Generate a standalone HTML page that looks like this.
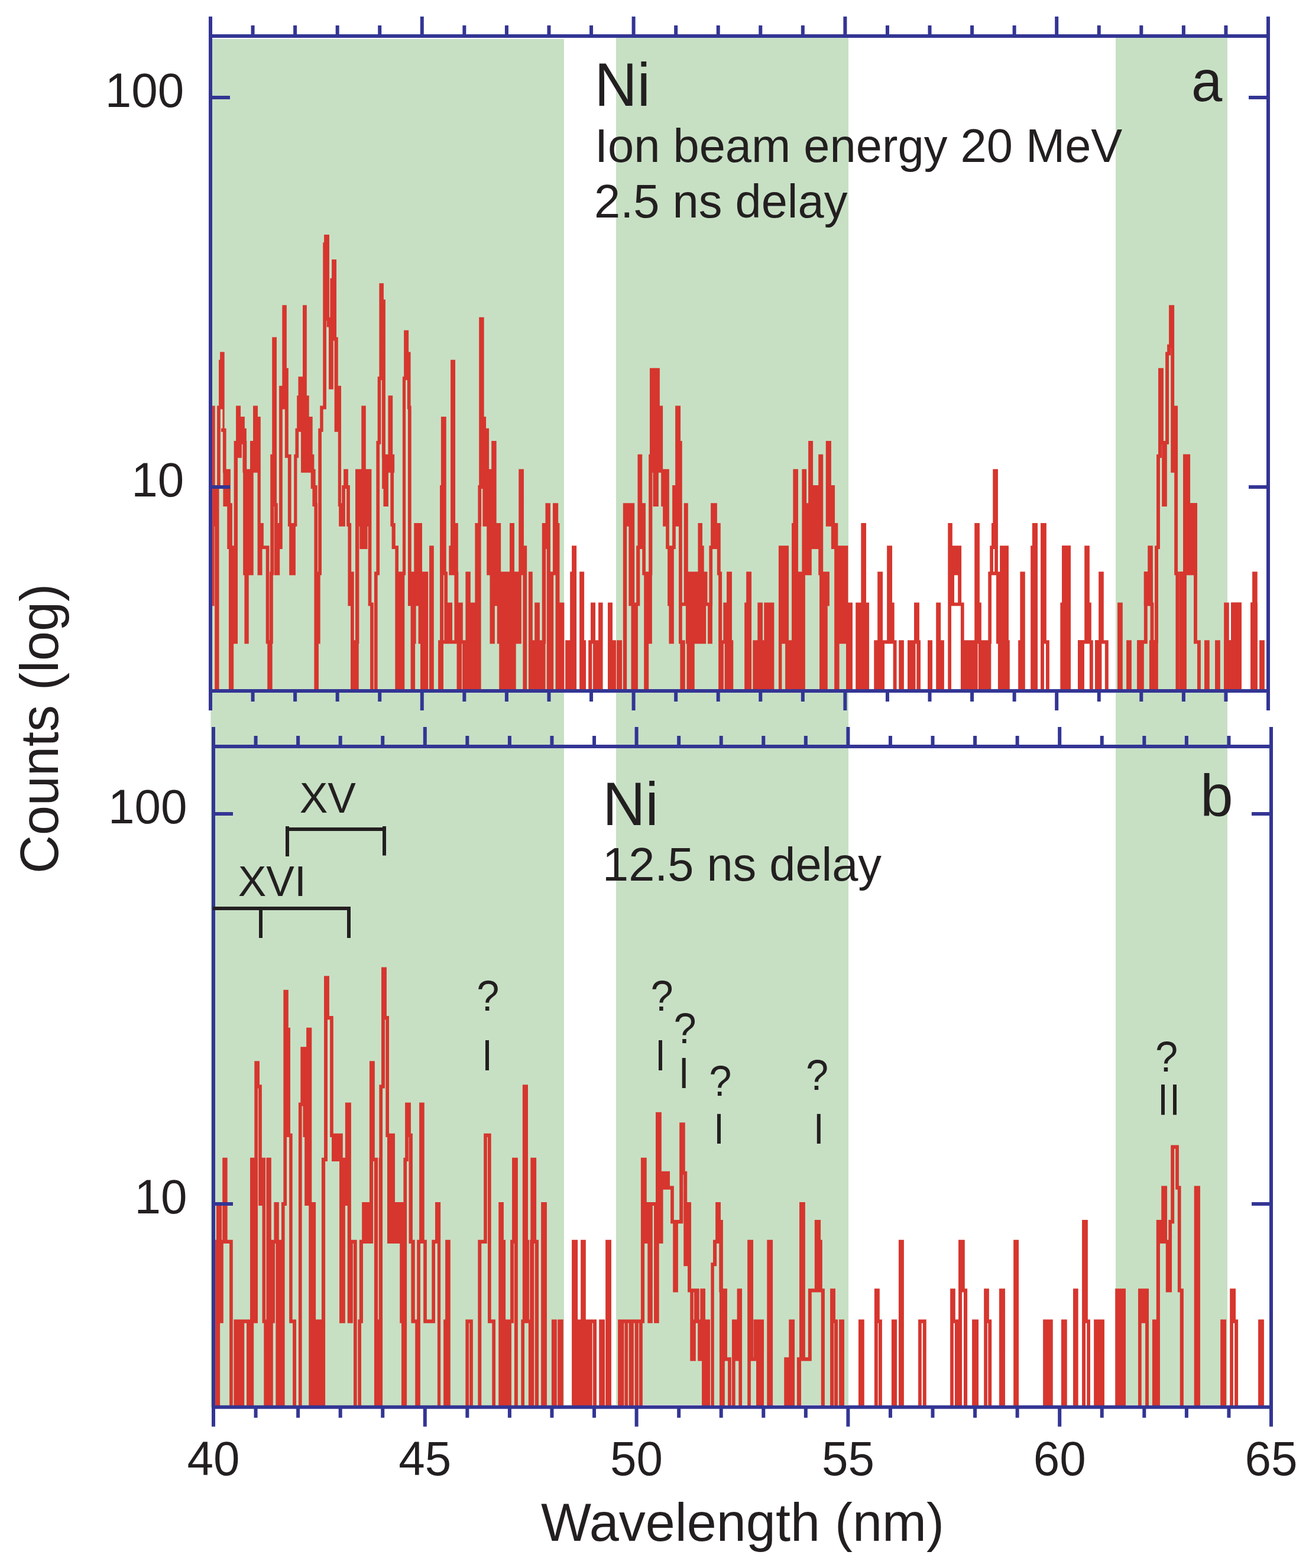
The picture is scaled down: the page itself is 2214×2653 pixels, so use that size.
<!DOCTYPE html>
<html lang="en">
<head>
<meta charset="utf-8">
<title>Ni spectra</title>
<style>
html,body{margin:0;padding:0;background:#fff;}
body{width:2214px;height:2653px;overflow:hidden;}
svg{display:block;}
text{font-family:"Liberation Sans", sans-serif;}
</style>
</head>
<body>
<svg width="2214" height="2653" viewBox="0 0 2214 2653">
<rect x="0" y="0" width="2214" height="2653" fill="#fff"/>
<rect x="356.4" y="66" width="597.6" height="2315" fill="#c7e0c4"/>
<rect x="1042" y="64" width="393" height="2313" fill="#c7e0c4"/>
<rect x="1887" y="64" width="189" height="2313.2" fill="#c7e0c4"/>
<defs><clipPath id="ca"><rect x="356" y="61" width="1789" height="1108"/></clipPath><clipPath id="cb"><rect x="361" y="1263" width="1789" height="1117.7"/></clipPath></defs>
<g clip-path="url(#ca)">
<path d="M356 1189H1750V887.86H1752.05V1189H1763.01V887.86H1766.89V1086.24H1771.91V1189H1796.32V1022.38H1799.06V926.08H1807.96V1189H1825.98V1086.24H1837.16V926.08H1839.9V1022.38H1842.87V1086.24H1845.84V1189H1854.96V1086.24H1861.12V970.2H1863.86V1086.24H1871.85V1189H1893.01V1022.38H1895.87V1189H1908.07V1086.24H1910.93V1189H1926.16V1086.24H1937.79V970.2H1944.18V926.08H1946.92V1022.38H1948.52V1086.24H1956.05V926.08H1959.01V771.82H1961.98V625.62H1964.95V748.91H1968.14V854.15H1970.88V748.91H1974.07V598.34H1977.04V585.62H1980.01V519.28H1983.2V796.72H1986.17V689.48H1989.13V970.2H1991.41V1189H1997.58V970.2H2003.96V771.82H2010.13V854.15H2021.99V1086.24H2027.92V1189H2039.96V1086.24H2042.82V1189H2057.98V1086.24H2060.84V1189H2073.1V1022.38H2075.84V1086.24H2084.97V1022.38H2096.83V1189H2118.05V1022.38H2121.02V970.2H2123.76V1189H2133.05V1086.24H2135.91V1189H2145" fill="none" stroke="#d6362e" stroke-width="5.9" stroke-linejoin="miter"/>
<path d="M1796.09 923.13H1810.92V1191.95H1796.09ZM1823.02 1083.29H1833.97V1191.95H1823.02ZM1852 1083.29H1863.41V1191.95H1852ZM1923.19 1083.29H1934.83V1191.95H1923.19ZM1943.95 1083.29H1958.78V1191.95H1943.95ZM1934.83 967.25H1949.89V1025.33H1934.83ZM1994.61 967.25H2006.93V1191.95H1994.61ZM2001 851.2H2024.96V973.15H2001ZM2001 768.87H2012.86V973.15H2001ZM2070.14 1083.29H2099.8V1191.95H2070.14ZM2082 1019.43H2099.8V1191.95H2082ZM2115.09 1019.43H2126.73V1191.95H2115.09ZM1350 967.25H1361.87V1191.95H1350ZM1356.39 793.77H1364.15V973.15H1356.39ZM1364.15 851.2H1372.82V973.15H1364.15ZM1367.11 745.96H1375.1V857.1H1367.11ZM1372.82 821.05H1386.05V929.03H1372.82ZM1384.23 768.87H1392.21V973.15H1384.23ZM1386.05 967.25H1399.74V1191.95H1386.05ZM1396.78 745.96H1405.9V890.81H1396.78ZM1399.74 967.25H1402.94V1025.33H1399.74ZM1405.9 821.05H1412.07V929.03H1405.9ZM1412.07 884.91H1417.31V929.03H1412.07ZM1405.9 884.91H1411.15V929.03H1405.9ZM1411.15 923.13H1434.43V1089.19H1411.15ZM1411.15 1083.29H1419.59V1191.95H1411.15ZM1431 1019.43H1441.96V1191.95H1431ZM1447.2 1019.43H1470.02V1191.95H1447.2ZM1456.33 884.91H1465V1025.33H1456.33ZM1478.24 1083.29H1496.04V1191.95H1478.24ZM1484.17 967.25H1493.07V1089.19H1484.17ZM1478.24 1083.29H1516.57V1089.19H1478.24ZM1500.14 923.13H1509.04V1089.19H1500.14ZM1506.3 1019.43H1512.69V1089.19H1506.3ZM1510.64 1083.29H1516.57V1191.95H1510.64ZM1520.22 1083.29H1528.89V1191.95H1520.22ZM1535.05 1083.29H1548.52V1191.95H1535.05ZM1550.34 1083.29H1556.96V1191.95H1550.34ZM1546.01 1019.43H1554.91V1089.19H1546.01ZM1569.05 1083.29H1577.04V1191.95H1569.05ZM1583.2 1083.29H1596.89V1191.95H1583.2ZM1583.2 1019.43H1591.19V1089.19H1583.2ZM1603.28 884.91H1608.98V1191.95H1603.28ZM1603.28 884.91H1610.81V973.15H1603.28ZM1610.81 923.13H1626.1V973.15H1610.81ZM1608.98 967.25H1614V1025.33H1608.98ZM1620.17 967.25H1626.1V1025.33H1620.17ZM1608.98 1019.43H1630.66V1025.33H1608.98ZM1624.96 1019.43H1630.66V1191.95H1624.96ZM1630.66 1083.29H1653.71V1191.95H1630.66ZM1648.23 884.91H1656.9V1089.19H1648.23ZM1654.16 1019.43H1659.87V1089.19H1654.16ZM1654.85 1083.29H1676.3V1191.95H1654.85ZM1671.28 967.25H1676.98V1089.19H1671.28ZM1671.28 967.25H1691.13V973.15H1671.28ZM1674.24 923.13H1679.95V973.15H1674.24ZM1676.98 884.91H1679.95V929.03H1676.98ZM1679.26 793.77H1687.93V929.03H1679.26ZM1682.23 923.13H1687.93V973.15H1682.23ZM1684.97 967.25H1691.13V1089.19H1684.97ZM1687.93 1083.29H1707.79V1191.95H1687.93ZM1691.13 923.13H1705.96V1089.19H1691.13ZM1722.16 1083.29H1733.8V1191.95H1722.16ZM1725.36 967.25H1733.8V1089.19H1725.36ZM1743.15 923.13H1755.02V1191.95H1743.15ZM1745.89 884.91H1755.02V929.03H1745.89ZM950 1019.43H953.88V1191.95H950ZM956.16 1083.29H975.1V1191.95H956.16ZM964.15 967.25H975.1V1089.19H964.15ZM967.11 923.13H975.1V973.15H967.11ZM980.12 967.25H988.11V1191.95H980.12ZM980.12 1083.29H991.07V1191.95H980.12ZM995.18 1083.29H1001.34V1191.95H995.18ZM999.06 1019.43H1007.05V1089.19H999.06ZM1002.94 1083.29H1019.59V1191.95H1002.94ZM1012.07 1019.43H1019.59V1089.19H1012.07ZM1028.04 1083.29H1041.96V1191.95H1028.04ZM1028.04 1019.43H1036.02V1089.19H1028.04ZM1043.1 1083.29H1052V1191.95H1043.1ZM1053.82 851.2H1073.22V890.81H1053.82ZM1053.82 884.91H1060.21V1191.95H1053.82ZM1063.41 884.91H1073.22V1025.33H1063.41ZM1067.51 1019.43H1078.92V1191.95H1067.51ZM1073.22 1019.43H1082.34V1025.33H1073.22ZM1076.18 923.13H1082.34V1025.33H1076.18ZM1078.47 768.87H1086.22V929.03H1078.47ZM1086.22 851.2H1091.93V973.15H1086.22ZM1089.19 967.25H1102.88V1089.19H1089.19ZM1089.19 1083.29H1097.18V1191.95H1089.19ZM1097.18 768.87H1103.34V973.15H1097.18ZM1099 622.67H1115.89V799.67H1099ZM1104.48 793.77H1113.83V857.1H1104.48ZM1114.75 724.75H1121.14V799.67H1114.75ZM1115.89 686.53H1121.14V799.67H1115.89ZM1118.17 793.77H1121.14V857.1H1118.17ZM1121.14 793.77H1131.86V890.81H1121.14ZM1126.16 884.91H1131.86V929.03H1126.16ZM1126.16 923.13H1142.81V929.03H1126.16ZM1129.12 923.13H1139.85V1025.33H1129.12ZM1131.4 1019.43H1139.85V1089.19H1131.4ZM1137.11 821.05H1142.81V929.03H1137.11ZM1142.13 686.53H1151.03V890.81H1142.13ZM1142.81 745.96H1153.76V890.81H1142.81ZM1148.06 884.91H1153.76V1089.19H1148.06ZM1150.34 1083.29H1158.78V1191.95H1150.34ZM1153.76 1019.43H1159.93V1025.33H1153.76ZM1156.73 851.2H1163.8V973.15H1156.73ZM1156.73 967.25H1196.43V1025.33H1156.73ZM1159.93 1019.43H1194.15V1089.19H1159.93ZM1161.52 1083.29H1174.76V1191.95H1161.52ZM1180.46 884.91H1187.99V973.15H1180.46ZM1187.99 923.13H1190.73V973.15H1187.99ZM1197.12 1019.43H1204.88V1089.19H1197.12ZM1194.15 1019.43H1204.88V1025.33H1194.15ZM1199.4 923.13H1205.11V1025.33H1199.4ZM1199.4 923.13H1205.11V929.03H1199.4ZM1202.14 851.2H1212.86V929.03H1202.14ZM1212.86 884.91H1218.8V973.15H1212.86ZM1210.13 884.91H1218.8V929.03H1210.13ZM1215.15 967.25H1221.08V1089.19H1215.15ZM1215.15 1083.29H1223.82V1191.95H1215.15ZM1223.36 1019.43H1237.96V1089.19H1223.36ZM1229.06 967.25H1237.96V1025.33H1229.06ZM1225.64 1083.29H1240.25V1191.95H1225.64ZM1259.18 1019.43H1271.05V1191.95H1259.18ZM1262.15 967.25H1271.05V1025.33H1262.15ZM1273.33 1083.29H1309.38V1191.95H1273.33ZM1281.32 1019.43H1289.99V1089.19H1281.32ZM1292.27 1019.43H1309.38V1089.19H1292.27ZM1316.91 923.13H1334.03V1089.19H1316.91ZM1316.91 1083.29H1322.39V1191.95H1316.91ZM1328.09 1083.29H1350V1191.95H1328.09ZM1339.05 884.91H1350V1089.19H1339.05ZM1341.33 793.77H1350V890.81H1341.33ZM359.13 686.53H363.69V890.81H359.13ZM359.13 884.91H362.55V1025.33H359.13ZM363.23 821.05H370.54V1191.95H363.23ZM363.23 821.05H372.82V826.95H363.23ZM367.11 686.53H372.82V826.95H367.11ZM377.38 793.77H389.93V857.1H377.38ZM376.93 724.75H382.63V799.67H376.93ZM384.23 851.2H392.9V929.03H384.23ZM386.97 923.13H402.03V1089.19H386.97ZM386.97 1083.29H395.18V1191.95H386.97ZM395.64 745.96H402.03V929.03H395.64ZM411.15 793.77H428.72V973.15H411.15ZM413.43 967.25H420.74V1089.19H413.43ZM435.57 745.96H440.82V890.81H435.57ZM435.57 884.91H445.84V890.81H435.57ZM440.82 884.91H445.84V929.03H440.82ZM435.57 884.91H443.55V973.15H435.57ZM443.55 923.13H455.42V929.03H443.55ZM449.71 923.13H455.42V1089.19H449.71ZM452.22 1083.29H460.67V1191.95H452.22ZM456.1 967.25H461.81V1089.19H456.1ZM457.24 851.2H463.41V973.15H457.24ZM464.09 851.2H469.79V890.81H464.09ZM464.09 884.91H473.22V973.15H464.09ZM469.79 884.91H477.78V929.03H469.79ZM457.24 851.2H469.79V857.1H457.24ZM486.91 884.91H502.42V890.81H486.91ZM489.19 884.91H499.91V973.15H489.19ZM525.7 793.77H533.69V826.95H525.7ZM528.44 821.05H536.65V857.1H528.44ZM531.4 851.2H537.11V973.15H531.4ZM531.4 967.25H541.67V1089.19H531.4ZM531.4 1083.29H538.93V1191.95H531.4ZM573.16 851.2H583.88V890.81H573.16ZM578.18 821.05H591.87V826.95H578.18ZM581.15 793.77H588.9V826.95H581.15ZM578.18 821.05H583.88V857.1H578.18ZM586.17 821.05H591.87V890.81H586.17ZM586.17 884.91H594.15V890.81H586.17ZM588.45 884.91H594.15V973.15H588.45ZM588.45 967.25H598.72V1025.33H588.45ZM593.01 1019.43H598.72V1089.19H593.01ZM593.01 1083.29H606.7V1191.95H593.01ZM601 793.77H628.38V890.81H601ZM601 884.91H607.39V1089.19H601ZM608.3 884.91H621.53V929.03H608.3ZM622.68 884.91H628.38V1025.33H622.68ZM623.82 1019.43H631.8V1025.33H623.82ZM626.1 1019.43H631.8V1191.95H626.1ZM632.94 967.25H638.65V1191.95H632.94ZM632.94 967.25H641.61V973.15H632.94ZM646.18 793.77H656.9V826.95H646.18ZM648.46 821.05H656.9V857.1H648.46ZM660.33 793.77H666.03V890.81H660.33ZM662.61 884.91H668.77V929.03H662.61ZM663.75 923.13H674.02V929.03H663.75ZM668.31 923.13H674.02V973.15H668.31ZM668.31 967.25H684.28V1191.95H668.31ZM689.99 967.25H724.22V1025.33H689.99ZM700.26 884.91H713.95V973.15H700.26ZM694.55 1019.43H703.68V1089.19H694.55ZM694.55 1083.29H702.08V1191.95H694.55ZM707.56 1019.43H724.22V1089.19H707.56ZM710.98 1083.29H724.22V1191.95H710.98ZM726.04 923.13H733.8V1191.95H726.04ZM741.33 1083.29H750V1191.95H741.33ZM744.3 821.05H750V1089.19H744.3ZM372.13 595.39H379.66V692.43H372.13ZM376.47 686.53H379.66V730.65H376.47ZM370.08 608.71H372.82V692.43H370.08ZM373.96 724.75H382.63V730.65H373.96ZM396.32 745.96H402.03V929.03H396.32ZM402.03 745.96H408.87V774.77H402.03ZM399.06 686.53H407.05V751.86H399.06ZM407.05 705.01H413.89V751.86H407.05ZM413.89 724.75H416.86V799.67H413.89ZM410.47 745.96H417.31V799.67H410.47ZM423.02 745.96H428.04V799.67H423.02ZM428.04 686.53H436.02V799.67H428.04ZM423.02 745.96H433.97V799.67H423.02ZM436.02 705.01H440.82V890.81H436.02ZM460.21 570.49H467.97V857.1H460.21ZM457.24 768.87H463.41V973.15H457.24ZM472.08 652.83H477.78V890.81H472.08ZM477.32 516.33H484.85V692.43H477.32ZM481.89 622.67H487.82V774.77H481.89ZM486.91 768.87H492.61V890.81H486.91ZM497.18 768.87H502.42V890.81H497.18ZM499.46 724.75H505.16V774.77H499.46ZM502.2 669.18H522.73V730.65H502.2ZM504.48 637.35H512.01V675.08H504.48ZM512.01 516.33H518.85V675.08H512.01ZM509.04 705.01H528.67V799.67H509.04ZM509.04 768.87H531.4V799.67H509.04ZM538.25 724.75H543.95V973.15H538.25ZM541.22 686.53H546.69V730.65H541.22ZM541.22 686.53H551.94V692.43H541.22ZM546.24 410.33H551.94V692.43H546.24ZM548.06 397.01H556.96V542.68H548.06ZM552.62 536.78H558.33V553.48H552.62ZM556.05 547.58H563.8V658.73H556.05ZM558.33 470.81H561.07V553.48H558.33ZM561.07 438.97H569.05V576.39H561.07ZM565.63 570.49H571.79V730.65H565.63ZM571.79 652.83H577.04V857.1H571.79ZM611.27 686.53H618.8V799.67H611.27ZM636.37 745.96H642.07V973.15H636.37ZM638.65 637.35H644.35V751.86H638.65ZM641.39 479.35H648.92V643.25H641.39ZM645.95 506.63H651.88V774.77H645.95ZM646.18 768.87H667.17V799.67H646.18ZM656.45 669.18H664.2V774.77H656.45ZM680.86 637.35H686.11V973.15H680.86ZM683.14 558.81H691.13V643.25H683.14ZM688.85 595.39H694.55V692.43H688.85ZM689.99 686.53H695.69V973.15H689.99ZM745.89 705.01H750V826.95H745.89ZM741.07 1083.29H746.78V1191.95H741.07ZM744.04 821.05H749.74V1089.19H744.04ZM746.32 705.01H754.76V973.15H746.32ZM751.34 967.25H757.05V1089.19H751.34ZM754.76 1019.43H765.03V1089.19H754.76ZM759.33 923.13H769.59V973.15H759.33ZM762.07 608.71H770.05V929.03H762.07ZM759.33 967.25H775.3V973.15H759.33ZM769.59 884.91H774.84V1025.33H769.59ZM768.45 967.25H775.3V1089.19H768.45ZM772.56 1019.43H782.83V1089.19H772.56ZM746.78 1083.29H772.56V1089.19H746.78ZM772.56 1083.29H781V1191.95H772.56ZM782.14 1083.29H813.63V1191.95H782.14ZM787.39 967.25H795.84V1089.19H787.39ZM795.84 1019.43H813.63V1089.19H795.84ZM803.37 884.91H813.63V1025.33H803.37ZM808.39 821.05H814.09V890.81H808.39ZM810.21 536.78H818.65V826.95H810.21ZM810.21 705.01H822.08V826.95H810.21ZM810.21 724.75H827.1V826.95H810.21ZM816.37 793.77H839.65V890.81H816.37ZM831.2 745.96H839.65V799.67H831.2ZM810.21 821.05H816.37V826.95H810.21ZM823.22 884.91H847.18V973.15H823.22ZM828.47 967.25H836.91V1089.19H828.47ZM840.79 967.25H881.86V1089.19H840.79ZM828.47 967.25H881.86V1025.33H828.47ZM844.21 1083.29H872.73V1191.95H844.21ZM862.01 884.91H869.99V973.15H862.01ZM877.3 793.77H885.97V929.03H877.3ZM877.3 923.13H891.22V973.15H877.3ZM884.37 967.25H891.22V1191.95H884.37ZM893.95 967.25H900.8V1191.95H893.95ZM893.95 1083.29H922.48V1191.95H893.95ZM904.22 1019.43H912.89V1089.19H904.22ZM916.77 884.91H923.16V1089.19H916.77ZM922.48 851.2H930.92V929.03H922.48ZM916.77 884.91H930.92V929.03H916.77ZM924.76 923.13H930.92V973.15H924.76ZM924.76 967.25H936.17V1191.95H924.76ZM930.92 967.25H939.59V973.15H930.92ZM935.03 851.2H944.15V973.15H935.03ZM939.59 884.91H946.43V1025.33H939.59ZM939.59 1019.43H954.42V1191.95H939.59Z" fill="#d6362e"/>
</g>
<g clip-path="url(#cb)">
<path d="M361 2400.7H2150" fill="none" stroke="#d6362e" stroke-width="6.2" stroke-linejoin="miter"/>
<path d="M1764.13 2232.58H1780.78V2403.8H1764.13ZM1794.93 2232.58H1804.74V2403.8H1794.93ZM1815.01 2180.32H1823.68V2403.8H1815.01ZM1830.07 2064.1H1839.88V2238.78H1830.07ZM1830.07 2232.58H1836V2403.8H1830.07ZM1838.29 2232.58H1843.99V2403.8H1838.29ZM1830.07 2232.58H1843.99V2238.78H1830.07ZM1850.15 2232.58H1867.95V2403.8H1850.15ZM1886.2 2180.32H1904V2403.8H1886.2ZM1924.99 2180.32H1943.02V2238.78H1924.99ZM1924.99 2232.58H1930.7V2403.8H1924.99ZM1937.09 2232.58H1943.02V2403.8H1937.09ZM1948.95 2232.58H1961.96V2403.8H1948.95ZM1955.8 2064.1H1961.96V2238.78H1955.8ZM1955.8 2064.1H1974.05V2104.06H1955.8ZM1964.24 2006.58H1974.05V2070.3H1964.24ZM1971.77 2097.86H1982.04V2186.52H1971.77ZM1976.33 2064.1H1982.04V2104.06H1976.33ZM1976.33 2064.1H1985.92V2070.3H1976.33ZM1980.21 1937.46H1986.15V2070.3H1980.21ZM1980.21 1937.46H1993.9V1943.66H1980.21ZM1988.2 1937.46H1993.9V2012.78H1988.2ZM1988.2 2006.58H1997.56V2012.78H1988.2ZM1991.85 2006.58H1997.56V2186.52H1991.85ZM1991.85 2180.32H2001.89V2186.52H1991.85ZM1995.73 2180.32H2001.89V2403.8H1995.73ZM2019.69 2006.58H2029.96V2403.8H2019.69ZM2064.18 2232.58H2074V2403.8H2064.18ZM2080.16 2180.32H2089.97V2238.78H2080.16ZM2080.16 2232.58H2085.86V2403.8H2080.16ZM2088.14 2232.58H2094.08V2403.8H2088.14ZM2080.16 2232.58H2094.08V2238.78H2080.16ZM2128.07 2232.58H2137.89V2403.8H2128.07ZM1355 2033.9H1361.85V2302.74H1355ZM1355 2296.54H1372.8V2302.74H1355ZM1366.87 2180.32H1372.8V2302.74H1366.87ZM1366.87 2180.32H1394.93V2186.52H1366.87ZM1377.82 2064.1H1388.09V2186.52H1377.82ZM1384.66 2097.86H1390.82V2186.52H1384.66ZM1388.77 2180.32H1394.93V2403.8H1388.77ZM1404.06 2180.32H1412.96V2238.78H1404.06ZM1404.06 2232.58H1410.22V2403.8H1404.06ZM1411.13 2232.58H1417.07V2403.8H1411.13ZM1404.06 2232.58H1417.07V2238.78H1404.06ZM1419.12 2232.58H1428.02V2403.8H1419.12ZM1451.98 2232.58H1461.79V2403.8H1451.98ZM1478.9 2180.32H1487.8V2238.78H1478.9ZM1478.9 2232.58H1484.83V2403.8H1478.9ZM1485.98 2232.58H1491.91V2403.8H1485.98ZM1478.9 2232.58H1491.91V2238.78H1478.9ZM1507.88 2232.58H1517.01V2403.8H1507.88ZM1519.97 2097.86H1528.87V2403.8H1519.97ZM1553.06 2232.58H1566.75V2238.78H1553.06ZM1553.06 2232.58H1558.76V2403.8H1553.06ZM1560.82 2232.58H1566.75V2403.8H1560.82ZM1607.14 2180.32H1615.81V2238.78H1607.14ZM1607.14 2232.58H1612.84V2403.8H1607.14ZM1614.9 2232.58H1626.99V2403.8H1614.9ZM1621.06 2097.86H1631.78V2186.52H1621.06ZM1621.06 2180.32H1626.99V2238.78H1621.06ZM1626.99 2180.32H1636.12V2186.52H1626.99ZM1629.96 2180.32H1636.12V2403.8H1629.96ZM1644.1 2232.58H1655.06V2403.8H1644.1ZM1664.18 2180.32H1672.86V2238.78H1664.18ZM1664.18 2232.58H1669.89V2403.8H1664.18ZM1671.26 2232.58H1677.19V2403.8H1671.26ZM1664.18 2232.58H1677.19V2238.78H1664.18ZM1689.97 2180.32H1700.01V2403.8H1689.97ZM1714.16 2097.86H1723.05V2403.8H1714.16ZM967.09 2097.86H977.13V2238.78H967.09ZM982.15 2097.86H990.82V2238.78H982.15ZM967.09 2232.58H1001.78V2403.8H967.09ZM1002.92 2232.58H1009.08V2403.8H1002.92ZM967.09 2232.58H1009.08V2238.78H967.09ZM1013.19 2232.58H1023V2403.8H1013.19ZM1024.14 2097.86H1033.95V2403.8H1024.14ZM1045.13 2232.58H1055.4V2403.8H1045.13ZM1056.54 2232.58H1062.02V2403.8H1056.54ZM1063.61 2232.58H1071.83V2403.8H1063.61ZM1073.65 2232.58H1079.81V2403.8H1073.65ZM1080.96 2232.58H1086.89V2403.8H1080.96ZM1045.13 2232.58H1089.63V2238.78H1045.13ZM1083.92 1958.7H1093.73V2104.06H1083.92ZM1083.92 2097.86H1090.08V2238.78H1083.92ZM1090.08 2097.86H1099.89V2104.06H1090.08ZM1093.73 2033.9H1099.89V2104.06H1093.73ZM1099.44 2033.9H1110.16V2040.1H1099.44ZM1099.44 2033.9H1103.77V2104.06H1099.44ZM1095.33 2097.86H1103.77V2238.78H1095.33ZM1106.06 2033.9H1114.73V2238.78H1106.06ZM1109.02 1881.8H1118.83V2104.06H1109.02ZM1114.73 1981.64H1121.57V2104.06H1114.73ZM1118.83 1981.64H1132.98V2012.78H1118.83ZM1122.26 2006.58H1139.83V2012.78H1122.26ZM1134.12 2006.58H1139.83V2070.3H1134.12ZM1134.12 2064.1H1155.34V2070.3H1134.12ZM1138.23 2064.1H1146.9V2186.52H1138.23ZM1149.18 1899.18H1155.34V2070.3H1149.18ZM1149.18 1899.18H1158.76V1987.84H1149.18ZM1156.25 1981.64H1162.19V2040.1H1156.25ZM1156.25 2033.9H1169.03V2142.34H1156.25ZM1163.1 2136.14H1169.03V2186.52H1163.1ZM1163.1 2180.32H1174.05V2186.52H1163.1ZM1167.21 2180.32H1172.91V2302.74H1167.21ZM1174.05 2180.32H1182.72V2238.78H1174.05ZM1184.32 2180.32H1192.99V2238.78H1184.32ZM1167.21 2232.58H1176.79V2302.74H1167.21ZM1180.21 2232.58H1200.98V2302.74H1180.21ZM1174.05 2232.58H1200.98V2238.78H1174.05ZM1187.06 2296.54H1200.98V2403.8H1187.06ZM1202.35 2136.14H1207.82V2403.8H1202.35ZM1202.35 2136.14H1212.16V2142.34H1202.35ZM1206 2097.86H1212.16V2142.34H1206ZM1206 2097.86H1216.27V2104.06H1206ZM1210.11 2033.9H1216.27V2104.06H1210.11ZM1210.11 2033.9H1219V2070.3H1210.11ZM1216.27 2064.1H1222.88V2186.52H1216.27ZM1216.95 2180.32H1229.96V2302.74H1216.95ZM1216.95 2296.54H1225.85V2403.8H1216.95ZM1225.85 2296.54H1236.8V2302.74H1225.85ZM1231.1 2296.54H1236.8V2403.8H1231.1ZM1237.94 2232.58H1255.06V2302.74H1237.94ZM1237.94 2296.54H1243.65V2403.8H1237.94ZM1246.61 2180.32H1255.06V2238.78H1246.61ZM1249.35 2296.54H1255.06V2403.8H1249.35ZM1264.18 2097.86H1274V2302.74H1264.18ZM1264.18 2296.54H1269.89V2403.8H1264.18ZM1269.89 2296.54H1279.02V2302.74H1269.89ZM1274.45 2232.58H1292.02V2302.74H1274.45ZM1279.02 2296.54H1292.02V2403.8H1279.02ZM1297.27 2097.86H1307.08V2403.8H1297.27ZM1326.25 2296.54H1344.05V2403.8H1326.25ZM1334.24 2232.58H1344.05V2302.74H1334.24ZM1347.93 2296.54H1355V2403.8H1347.93ZM1352.03 2033.9H1355V2302.74H1352.03ZM655 1917.68H668.01V2104.06H655ZM668.01 2033.9H682.38V2104.06H668.01ZM682.38 1958.7H688.09V2104.06H682.38ZM685.12 1865.42H694.93V1923.88H685.12ZM685.12 1917.68H690.82V1964.9H685.12ZM691.51 1917.68H697.9V2104.06H691.51ZM676.22 2097.86H688.09V2238.78H676.22ZM678.96 2232.58H688.09V2403.8H678.96ZM692.19 2097.86H701.78V2104.06H692.19ZM695.39 2097.86H701.78V2238.78H695.39ZM695.39 2232.58H710.9V2238.78H695.39ZM702.23 2232.58H710.9V2403.8H702.23ZM705.2 2097.86H710.9V2238.78H705.2ZM705.2 2097.86H721.86V2104.06H705.2ZM709.08 1865.42H717.75V2104.06H709.08ZM716.15 2097.86H721.86V2238.78H716.15ZM716.15 2232.58H736V2238.78H716.15ZM730.3 2097.86H736V2238.78H730.3ZM730.3 2097.86H739.88V2104.06H730.3ZM736 2033.9H745.13V2104.06H736ZM739.88 2097.86H745.13V2403.8H739.88ZM753.12 2097.86H761.79V2238.78H753.12ZM750.15 2232.58H761.79V2403.8H750.15ZM787.34 2232.58H799.89V2238.78H787.34ZM787.34 2232.58H793.05V2403.8H787.34ZM794.19 2232.58H799.89V2403.8H794.19ZM808.34 2097.86H814.27V2403.8H808.34ZM808.34 2097.86H823.85V2104.06H808.34ZM818.15 1917.68H823.85V2104.06H818.15ZM818.15 1917.68H830.7V1923.88H818.15ZM824.99 1917.68H830.7V2238.78H824.99ZM824.99 2232.58H838V2238.78H824.99ZM832.3 2232.58H838V2403.8H832.3ZM843.25 2033.9H851.92V2104.06H843.25ZM843.25 2097.86H855.11V2238.78H843.25ZM843.25 2232.58H864.93V2403.8H843.25ZM863.1 2097.86H869.03V2238.78H863.1ZM863.1 2097.86H875.88V2104.06H863.1ZM866.07 1958.7H875.88V2104.06H866.07ZM869.95 2097.86H875.88V2403.8H869.95ZM881.35 2232.58H887.06V2403.8H881.35ZM881.35 2232.58H895.73V2238.78H881.35ZM883.86 1835.22H892.99V2104.06H883.86ZM883.86 2097.86H895.05V2238.78H883.86ZM896.19 2097.86H903.26V2403.8H896.19ZM893.9 2232.58H903.26V2403.8H893.9ZM904.86 2097.86H911.02V2403.8H904.86ZM896.87 2097.86H911.02V2104.06H896.87ZM897.33 1958.7H907.14V2104.06H897.33ZM915.13 2033.9H924.94V2403.8H915.13ZM932.92 2232.58H941.82V2403.8H932.92ZM943.19 2232.58H952.78V2403.8H943.19ZM365.95 2033.9H375.08V2104.06H365.95ZM376.22 1958.7H384.66V2104.06H376.22ZM364.13 2097.86H377.82V2238.78H364.13ZM364.13 2097.86H393.79V2104.06H364.13ZM388.09 2097.86H393.79V2403.8H388.09ZM364.13 2232.58H372.11V2403.8H364.13ZM395.39 2232.58H413.19V2403.8H395.39ZM395.39 2232.58H436V2238.78H395.39ZM417.07 2232.58H429.16V2403.8H417.07ZM423 1958.7H430.3V2238.78H423ZM430.3 1795.16H436V2238.78H430.3ZM430.3 1795.16H438.97V1841.42H430.3ZM437.14 1835.22H442.85V2040.1H437.14ZM437.14 1958.7H449.01V2040.1H437.14ZM443.53 2033.9H449.01V2238.78H443.53ZM443.53 2232.58H464.98V2238.78H443.53ZM446.27 2232.58H461.79V2403.8H446.27ZM450.38 1958.7H458.82V2104.06H450.38ZM450.38 2097.86H464.98V2238.78H450.38ZM463.39 2033.9H471.83V2104.06H463.39ZM466.35 2097.86H481.64V2238.78H466.35ZM466.35 2232.58H481.64V2403.8H466.35ZM475.94 2033.9H485.06V2040.1H475.94ZM475.94 2033.9H481.64V2104.06H475.94ZM479.36 1674.82H485.06V2040.1H479.36ZM479.36 1674.82H487.8V1744.98H479.36ZM485.06 1738.78H491V1923.88H485.06ZM479.36 1917.68H494.65V1923.88H479.36ZM489.17 1917.68H494.65V2238.78H489.17ZM489.17 2232.58H501.04V2238.78H489.17ZM495.1 2232.58H501.04V2403.8H495.1ZM504.91 1865.42H510.62V2403.8H504.91ZM508.34 1771.26H512.44V1871.62H508.34ZM512.44 1771.26H518.15V1923.88H512.44ZM515.18 1917.68H527.28V2040.1H515.18ZM518.15 1738.78H527.28V1923.88H518.15ZM522.26 2033.9H534.12V2238.78H522.26ZM522.26 2232.58H550.09V2403.8H522.26ZM543.93 1958.7H550.09V2238.78H543.93ZM548.04 1651.24H553.97V1964.9H548.04ZM548.04 1651.24H556.94V1725.2H548.04ZM553.97 1719H563.78V1725.2H553.97ZM558.08 1719H563.78V1923.88H558.08ZM558.08 1917.68H579.76V1923.88H558.08ZM561.05 1917.68H579.76V1964.9H561.05ZM574.05 1958.7H583.86V2238.78H574.05ZM583.86 1865.42H593.9V2040.1H583.86ZM574.05 1958.7H593.9V2040.1H574.05ZM587.74 2033.9H593.9V2104.06H587.74ZM587.74 2097.86H596.87V2238.78H587.74ZM593.9 2097.86H603.72V2104.06H593.9ZM598.01 2097.86H603.72V2403.8H598.01ZM605.31 2232.58H613.98V2238.78H605.31ZM605.31 2232.58H611.02V2403.8H605.31ZM607.82 2097.86H613.98V2238.78H607.82ZM607.82 2097.86H631.1V2104.06H607.82ZM612.16 2033.9H631.1V2104.06H612.16ZM624.94 1958.7H631.1V2040.1H624.94ZM624.94 1795.16H633.84V1964.9H624.94ZM632.92 1958.7H639.08V2238.78H632.92ZM640.68 1958.7H647.07V2238.78H640.68ZM632.92 2232.58H647.07V2403.8H632.92ZM641.37 1835.22H647.07V1964.9H641.37ZM641.37 1835.22H650.95V1841.42H641.37ZM645.02 1636.54H650.95V1841.42H645.02ZM645.02 1636.54H653.92V1725.2H645.02ZM652.32 1719H658.02V1923.88H652.32Z" fill="#d6362e"/>
</g>
<path d="M356 28V1202M2145 28V1202M353 61H2148M353 1169H2148M427.56 43V61M427.56 1169V1187M499.12 43V61M499.12 1169V1187M570.68 43V61M570.68 1169V1187M642.24 43V61M642.24 1169V1187M713.8 28V61M713.8 1169V1202M785.36 43V61M785.36 1169V1187M856.92 43V61M856.92 1169V1187M928.48 43V61M928.48 1169V1187M1000.04 43V61M1000.04 1169V1187M1071.6 28V61M1071.6 1169V1202M1143.16 43V61M1143.16 1169V1187M1214.72 43V61M1214.72 1169V1187M1286.28 43V61M1286.28 1169V1187M1357.84 43V61M1357.84 1169V1187M1429.4 28V61M1429.4 1169V1202M1500.96 43V61M1500.96 1169V1187M1572.52 43V61M1572.52 1169V1187M1644.08 43V61M1644.08 1169V1187M1715.64 43V61M1715.64 1169V1187M1787.2 28V61M1787.2 1169V1202M1858.76 43V61M1858.76 1169V1187M1930.32 43V61M1930.32 1169V1187M2001.88 43V61M2001.88 1169V1187M2073.44 43V61M2073.44 1169V1187M356 165H389M2112 165H2145M356 824H389M2112 824H2145" fill="none" stroke="#333594" stroke-width="6"/>
<path d="M361 1230V2413.7M2150 1230V2413.7M358 1263H2153M358 2380.7H2153M432.56 1245V1263M432.56 2380.7V2398.7M504.12 1245V1263M504.12 2380.7V2398.7M575.68 1245V1263M575.68 2380.7V2398.7M647.24 1245V1263M647.24 2380.7V2398.7M718.8 1230V1263M718.8 2380.7V2413.7M790.36 1245V1263M790.36 2380.7V2398.7M861.92 1245V1263M861.92 2380.7V2398.7M933.48 1245V1263M933.48 2380.7V2398.7M1005.04 1245V1263M1005.04 2380.7V2398.7M1076.6 1230V1263M1076.6 2380.7V2413.7M1148.16 1245V1263M1148.16 2380.7V2398.7M1219.72 1245V1263M1219.72 2380.7V2398.7M1291.28 1245V1263M1291.28 2380.7V2398.7M1362.84 1245V1263M1362.84 2380.7V2398.7M1434.4 1230V1263M1434.4 2380.7V2413.7M1505.96 1245V1263M1505.96 2380.7V2398.7M1577.52 1245V1263M1577.52 2380.7V2398.7M1649.08 1245V1263M1649.08 2380.7V2398.7M1720.64 1245V1263M1720.64 2380.7V2398.7M1792.2 1230V1263M1792.2 2380.7V2413.7M1863.76 1245V1263M1863.76 2380.7V2398.7M1935.32 1245V1263M1935.32 2380.7V2398.7M2006.88 1245V1263M2006.88 2380.7V2398.7M2078.44 1245V1263M2078.44 2380.7V2398.7M361 1377H394M2117 1377H2150M361 2037H394M2117 2037H2150" fill="none" stroke="#333594" stroke-width="6"/>
<g fill="#231f20" font-family='"Liberation Sans", sans-serif'>
<text transform="translate(361 2496.2) scale(1 1.03)" font-size="80" text-anchor="middle">40</text>
<text transform="translate(718.8 2496.2) scale(1 1.03)" font-size="80" text-anchor="middle">45</text>
<text transform="translate(1076.6 2496.2) scale(1 1.03)" font-size="80" text-anchor="middle">50</text>
<text transform="translate(1434.4 2496.2) scale(1 1.03)" font-size="80" text-anchor="middle">55</text>
<text transform="translate(1792.2 2496.2) scale(1 1.03)" font-size="80" text-anchor="middle">60</text>
<text transform="translate(2150 2496.2) scale(1 1.03)" font-size="80" text-anchor="middle">65</text>
<text transform="translate(311.3 180.7) scale(1 1.03)" font-size="80" text-anchor="end">100</text>
<text transform="translate(311.3 839.7) scale(1 1.03)" font-size="80" text-anchor="end">10</text>
<text transform="translate(316.4 1392.7) scale(1 1.03)" font-size="80" text-anchor="end">100</text>
<text transform="translate(316.4 2052.7) scale(1 1.03)" font-size="80" text-anchor="end">10</text>
<text transform="translate(1256 2606.5)" font-size="90" text-anchor="middle">Wavelength (nm)</text>
<text transform="translate(97.8 1233) rotate(-90)" font-size="90" text-anchor="middle">Counts (log)</text>
<text transform="translate(1005.5 179) scale(1 1.035)" font-size="100">Ni</text>
<text transform="translate(1005.9 274) scale(0.9936 1)" font-size="80">Ion beam energy 20 MeV</text>
<text transform="translate(1005 367.8) scale(0.993 1)" font-size="80">2.5 ns delay</text>
<text transform="translate(2015 171) scale(0.94 0.985)" font-size="100">a</text>
<text transform="translate(1019.3 1395.6) scale(1 1.03)" font-size="100">Ni</text>
<text transform="translate(1019 1490) scale(0.992 1)" font-size="80">12.5 ns delay</text>
<text transform="translate(2030 1381)" font-size="100">b</text>
<text transform="translate(554.3 1375) scale(1.02 1.02)" font-size="70" text-anchor="middle">XV</text>
<text transform="translate(460.2 1516) scale(1.02 1.02)" font-size="70" text-anchor="middle">XVI</text>
<text transform="translate(825.3 1710) scale(0.98 1.02)" font-size="70" text-anchor="middle">?</text>
<text transform="translate(1119.7 1710) scale(0.98 1.02)" font-size="70" text-anchor="middle">?</text>
<text transform="translate(1158.5 1765) scale(0.98 1.02)" font-size="70" text-anchor="middle">?</text>
<text transform="translate(1218.3 1853.7) scale(0.98 1.02)" font-size="70" text-anchor="middle">?</text>
<text transform="translate(1382 1843.6) scale(0.98 1.02)" font-size="70" text-anchor="middle">?</text>
<text transform="translate(1973.2 1813.4) scale(0.98 1.02)" font-size="70" text-anchor="middle">?</text>
</g>
<path d="M486 1449V1398M650 1398V1447.5M483 1403H653M360 1537H590V1587M441 1537V1587M824 1760V1811M1117 1760V1811M1156.7 1790V1841M1216 1884.7V1935M1384.8 1884.7V1935M1967 1835V1886.2M1987 1835V1886.2" fill="none" stroke="#231f20" stroke-width="6" stroke-linejoin="miter"/>
</svg>
</body>
</html>
